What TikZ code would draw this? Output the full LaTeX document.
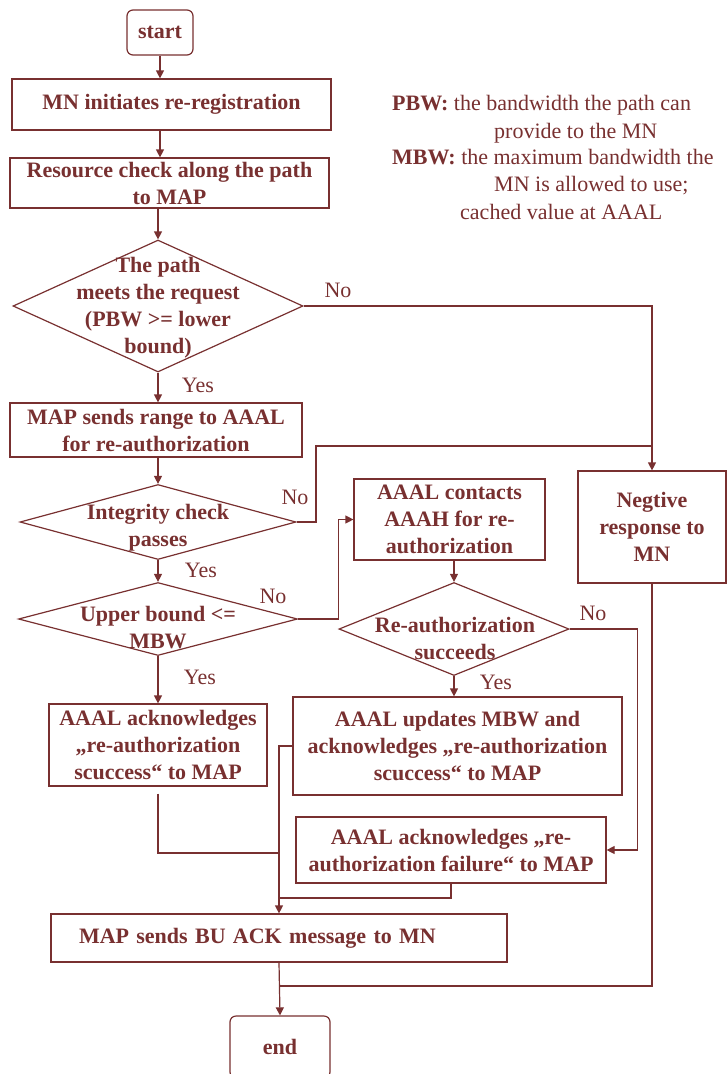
\documentclass[tikz,border=0pt]{standalone}
\usepackage{fontspec}
\setmainfont{Liberation Serif}
\usetikzlibrary{shapes.geometric,arrows.meta}
\definecolor{mar}{RGB}{120,48,48}
\newcommand\dfont{\fontsize{22}{27}\selectfont}
\begin{document}
\begin{tikzpicture}[x=1pt,y=-1pt,
  every node/.style={text=mar},
  box/.style={draw=mar,line width=1.2pt,rectangle,inner sep=0pt,align=center,font=\dfont\bfseries},
  term/.style={box,rounded corners=6pt},
  dia/.style={draw=mar,line width=1.2pt,diamond,inner sep=0pt},
  txt/.style={align=center,inner sep=0pt,font=\dfont\bfseries},
  lab/.style={inner sep=0pt,font=\dfont},
  leg/.style={inner sep=0pt,anchor=base west,font=\dfont},
  line/.style={draw=mar,line width=1.2pt},
  arr/.style={line,-{Triangle[length=8pt,width=8pt]}}]
\useasboundingbox (0,0) rectangle (727,1074);
% boxes
\node[term,minimum width=66pt,minimum height=45pt] (start) at (160,32.5) {start};
\node[box,minimum width=319pt,minimum height=51pt] (mn) at (171.5,104.5) {MN initiates re-registration};
\node[box,minimum width=319pt,minimum height=50pt] (res) at (169.5,183) {Resource check along the path\\to MAP};
\node[dia,minimum width=290pt,minimum height=132pt] (d1) at (158,306) {};
\node[txt] (d1t) at (158,308) {The path\\meets the request\\(PBW >= lower\\bound)};
\node[box,minimum width=292pt,minimum height=54pt] (map) at (156,430) {MAP sends range to AAAL\\for re-authorization};
\node[dia,minimum width=276pt,minimum height=75pt] (d2) at (158,522) {};
\node[txt] (d2t) at (158,528) {Integrity check\\passes};
\node[dia,minimum width=279pt,minimum height=73pt] (d3) at (158,619) {};
\node[txt] (d3t) at (158,628) {Upper bound <=\\MBW};
\node[box,minimum width=218pt,minimum height=82pt] (ackl) at (158,745) {AAAL acknowledges\\„re-authorization\\scuccess“ to MAP};
\node[box,minimum width=191pt,minimum height=81pt] (cont) at (449.5,519.5) {AAAL contacts\\AAAH for re-\\authorization};
\node[box,minimum width=148pt,minimum height=112pt] (neg) at (652,527) {Negtive\\response to\\MN};
\node[dia,minimum width=230pt,minimum height=93pt] (d4) at (454,629) {};
\node[txt] (d4t) at (455,638) {Re-authorization\\succeeds};
\node[box,minimum width=329pt,minimum height=98pt] (upd) at (457.5,746) {AAAL updates MBW and\\acknowledges „re-authorization\\scuccess“ to MAP};
\node[box,minimum width=310pt,minimum height=66pt] (fail) at (451,850) {AAAL acknowledges „re-\\authorization failure“ to MAP};
\node[box,minimum width=456pt,minimum height=48pt,text width=400pt,align=left] (bu) at (279,938) {MAP sends BU ACK message to MN};
\node[term,minimum width=100pt,minimum height=62pt] (end) at (280,1047) {end};
% legend
\node[leg] (l1) at (392,110) {\textbf{PBW:} the bandwidth the path can};
\node[leg] (l2) at (494,138) {provide to the MN};
\node[leg] (l3) at (392,164) {\textbf{MBW:} the maximum bandwidth the};
\node[leg] (l4) at (494,191) {MN is allowed to use;};
\node[leg] (l5) at (460,219) {cached value at AAAL};
% labels
\node[lab] (no1) at (338,290) {No};
\node[lab] (yes1) at (198,385) {Yes};
\node[lab] (no2) at (295,497) {No};
\node[lab] (yes2) at (201,570) {Yes};
\node[lab] (no3) at (273,596) {No};
\node[lab] (yes3) at (200,677) {Yes};
\node[lab] (no4) at (593,613) {No};
\node[lab] (yes4) at (496,682) {Yes};
% junction coordinates
\coordinate (j1) at (316,446);
\coordinate (m1) at (279,853);
\coordinate (m2) at (279,898);
\coordinate (m3) at (279,986);
% connectors
\draw[arr] (start.south) -- (start.south |- mn.north);
\draw[arr] (mn.south -| start.south) -- (res.north -| start.south);
\draw[arr] (res.south -| d1.north) -- (d1.north);
\draw[arr] (d1.south) -- (d1.south |- map.north);
\draw[arr] (d1.east) -| (neg.north);
\draw[arr] (map.south -| d2.north) -- (d2.north);
\draw[line] (d2.east) -| (j1) -- (j1 -| neg.north);
\draw[arr] (d2.south) -- (d3.north);
\draw[arr] (d3.east) -- ++(40,0) |- (cont.west);
\draw[arr] (d3.south) -- (d3.south |- ackl.north);
\draw[arr] (d4.north |- cont.south) -- (d4.north);
\draw[arr] (d4.east) -- ++(68,0) |- (fail.east);
\draw[arr] (d4.south) -- (d4.south |- upd.north);
\draw[arr] (upd.west) -| (bu.north);
\draw[line] (ackl.south) ++(0,7) |- (m1);
\draw[line] (fail.south) |- (m2);
\draw[line] (neg.south) |- (m3);
\draw[arr] (bu.south) -- (end.north);
\end{tikzpicture}
\end{document}
